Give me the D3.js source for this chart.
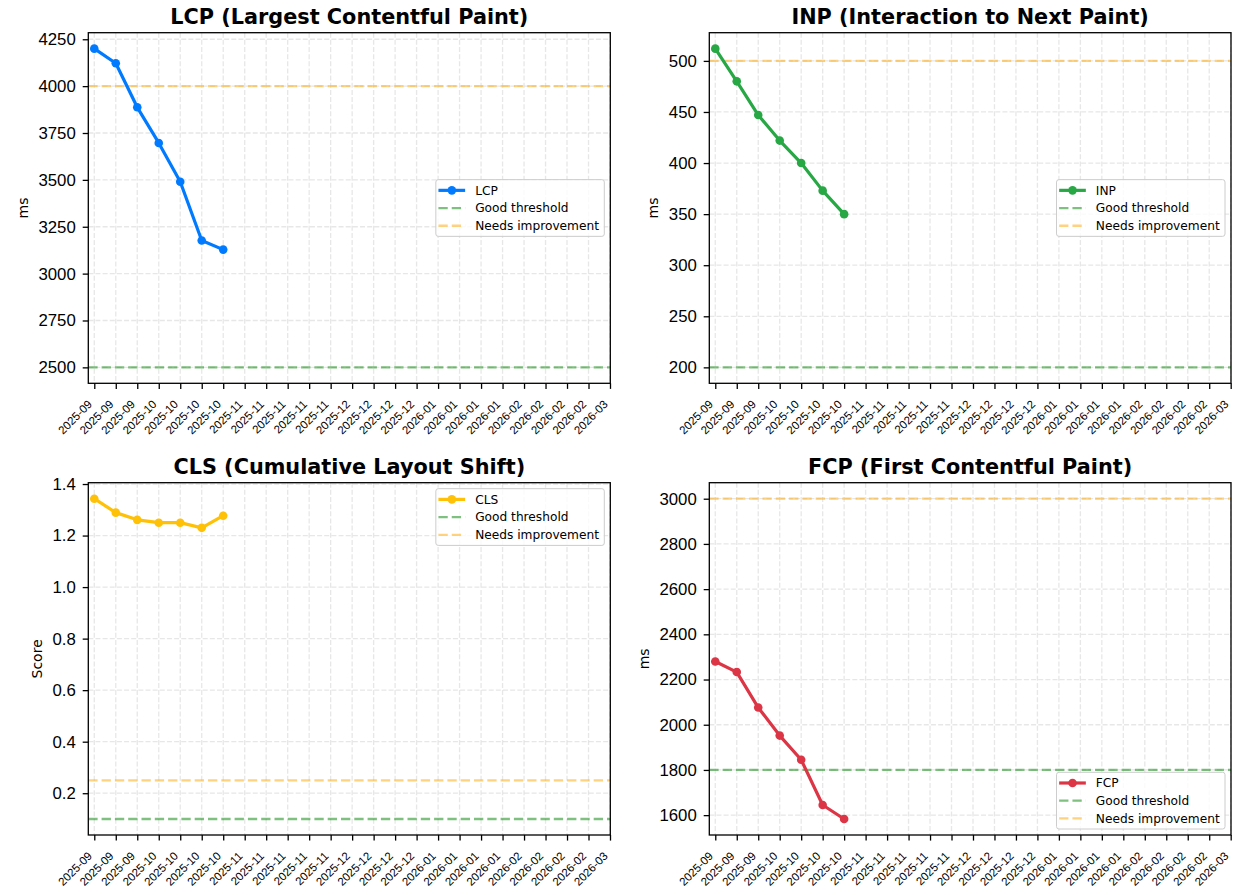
<!DOCTYPE html>
<html>
<head>
<meta charset="utf-8">
<script src="https://cdn.jsdelivr.net/npm/d3@7"></script>
<style>
  body { margin: 0; background: #fff; }
  svg { display: block; font-family: "DejaVu Sans", sans-serif; }
</style>
</head>
<body>
<div id="chart"></div>
<script>
// weekly data points
const weeks = ["2025-09-14", "2025-09-21", "2025-09-28", "2025-10-05", "2025-10-12", "2025-10-19", "2025-10-26"];
const lcpValues = [4200, 4122, 3887, 3697, 3490, 3177, 3128];
const inpValues = [512, 480, 447, 422, 400, 373, 350];
const clsValues = [1.343, 1.289, 1.261, 1.250, 1.250, 1.230, 1.277];
const fcpValues = [2280, 2233, 2076, 1952, 1845, 1645, 1583];

// x tick dates (weekly)
const xTicks = ["2025-09-14", "2025-09-21", "2025-09-28", "2025-10-05", "2025-10-12", "2025-10-19", "2025-10-26",
  "2025-11-02", "2025-11-09", "2025-11-16", "2025-11-23", "2025-11-30", "2025-12-07", "2025-12-14", "2025-12-21",
  "2025-12-28", "2026-01-04", "2026-01-11", "2026-01-18", "2026-01-25", "2026-02-01", "2026-02-08", "2026-02-15",
  "2026-02-22", "2026-03-01"];

// y tick values per chart
const lcpTicks = [2500, 2750, 3000, 3250, 3500, 3750, 4000, 4250];
const inpTicks = [200, 250, 300, 350, 400, 450, 500];
const clsTicks = [0.2, 0.4, 0.6, 0.8, 1.0, 1.2, 1.4];
const fcpTicks = [1600, 1800, 2000, 2200, 2400, 2600, 2800, 3000];

const width = 1233, height = 895;
const parse = d3.utcParse("%Y-%m-%d");
const fmtMonth = d3.utcFormat("%Y-%m");

const svg = d3.select("#chart").append("svg")
    .attr("width", width)
    .attr("height", height);

const panels = [
  {title: "LCP (Largest Contentful Paint)", name: "LCP", values: lcpValues, ticks: lcpTicks,
   good: 2500, needs: 4000, color: "#007bff", ylabel: "ms", fmt: d3.format("d"), legend: "center",
   box: {left: 88.3, right: 610.3, top: 32.7, bottom: 383.3}},
  {title: "INP (Interaction to Next Paint)", name: "INP", values: inpValues, ticks: inpTicks,
   good: 200, needs: 500, color: "#28a745", ylabel: "ms", fmt: d3.format("d"), legend: "center",
   box: {left: 709.3, right: 1231, top: 32.7, bottom: 383.3}},
  {title: "CLS (Cumulative Layout Shift)", name: "CLS", values: clsValues, ticks: clsTicks,
   good: 0.1, needs: 0.25, color: "#ffc107", ylabel: "Score", fmt: d3.format(".1f"), legend: "upper",
   box: {left: 88.3, right: 610.3, top: 482.7, bottom: 835}},
  {title: "FCP (First Contentful Paint)", name: "FCP", values: fcpValues, ticks: fcpTicks,
   good: 1800, needs: 3000, color: "#dc3545", ylabel: "ms", fmt: d3.format("d"), legend: "lower",
   box: {left: 709.3, right: 1231, top: 482.7, bottom: 835}}
];

const goodColor = "#008000", needsColor = "#ffa500";
const tickFont = 16.8, xTickFont = 11.5, titleFont = 20.8, legendFont = 12.2, labelFont = 14;
const tickLen = 5.6, yPad = 6.9, xOffset = 14.2;
const thrDash = "9.3,4", thrWidth = 2.3;

panels.forEach(p => {
  const b = p.box;
  const g = svg.append("g");

  const x = d3.scaleUtc()
    .domain([new Date(parse("2025-09-14").getTime() - 1.95 * 864e5), new Date(parse("2026-03-01").getTime() + 0.1 * 864e5)])
    .range([b.left, b.right]);

  // y domain like matplotlib autoscale: data + thresholds, 5% margin
  const ext = d3.extent([...p.values, p.good, p.needs]);
  const pad = (ext[1] - ext[0]) * 0.05;
  const y = d3.scaleLinear()
    .domain([ext[0] - pad, ext[1] + pad])
    .range([b.bottom, b.top]);

  // grid
  const grid = g.append("g")
    .attr("stroke", "#b0b0b0")
    .attr("stroke-opacity", 0.3)
    .attr("stroke-width", 1.3)
    .attr("stroke-dasharray", "5,2.15");
  grid.selectAll("line.gx")
    .data(xTicks)
    .enter().append("line")
    .attr("x1", d => x(parse(d))).attr("x2", d => x(parse(d)))
    .attr("y1", b.top).attr("y2", b.bottom);
  grid.selectAll("line.gy")
    .data(p.ticks)
    .enter().append("line")
    .attr("x1", b.left).attr("x2", b.right)
    .attr("y1", d => y(d)).attr("y2", d => y(d));

  // threshold lines
  [[p.good, goodColor], [p.needs, needsColor]].forEach(([v, c]) => {
    g.append("line")
      .attr("x1", b.left).attr("x2", b.right)
      .attr("y1", y(v)).attr("y2", y(v))
      .attr("stroke", c)
      .attr("stroke-opacity", 0.5)
      .attr("stroke-width", thrWidth)
      .attr("stroke-dasharray", thrDash);
  });

  // series line + markers
  const pts = weeks.map((w, i) => ({date: parse(w), value: p.values[i]}));
  g.append("path")
    .datum(pts)
    .attr("fill", "none")
    .attr("stroke", p.color)
    .attr("stroke-width", 3.2)
    .attr("stroke-linejoin", "round")
    .attr("d", d3.line().x(d => x(d.date)).y(d => y(d.value)));
  g.selectAll("circle")
    .data(pts)
    .enter().append("circle")
    .attr("cx", d => x(d.date))
    .attr("cy", d => y(d.value))
    .attr("r", 4.3)
    .attr("fill", p.color);

  // axes
  const xAxis = g.append("g")
    .attr("transform", `translate(0,${b.bottom})`)
    .call(d3.axisBottom(x).tickValues(xTicks.map(parse)).tickSize(tickLen).tickPadding(0).tickFormat(fmtMonth));
  xAxis.select(".domain").remove();
  xAxis.selectAll("line").attr("stroke", "#000").attr("stroke-width", 1.3);
  const a = 0.93 * xTickFont / Math.SQRT2, dsc = 0.24 * xTickFont / Math.SQRT2;
  xAxis.selectAll("text")
    .attr("font-size", xTickFont)
    .attr("fill", "#000")
    .attr("text-anchor", "end")
    .attr("dy", null)
    .attr("y", null)
    .attr("transform", `translate(${-dsc},${xOffset + a}) rotate(-45)`);

  const yAxis = g.append("g")
    .attr("transform", `translate(${b.left},0)`)
    .call(d3.axisLeft(y).tickValues(p.ticks).tickSize(tickLen).tickPadding(yPad).tickFormat(p.fmt));
  yAxis.select(".domain").remove();
  yAxis.selectAll("line").attr("stroke", "#000").attr("stroke-width", 1.3);
  yAxis.selectAll("text").attr("font-size", tickFont).attr("fill", "#000");

  // frame
  g.append("rect")
    .attr("x", b.left).attr("y", b.top)
    .attr("width", b.right - b.left).attr("height", b.bottom - b.top)
    .attr("fill", "none")
    .attr("stroke", "#000")
    .attr("stroke-width", 1.3);

  // title
  g.append("text")
    .attr("x", (b.left + b.right) / 2)
    .attr("y", b.top - 8.7)
    .attr("text-anchor", "middle")
    .attr("font-size", titleFont)
    .attr("font-weight", "bold")
    .text(p.title);

  // y label placed left of tick labels
  let minX = b.left;
  yAxis.selectAll("text").each(function() {
    const w = this.getComputedTextLength();
    minX = Math.min(minX, b.left - tickLen - yPad - w);
  });
  g.append("text")
    .attr("transform", `translate(${minX - 7.5 - 0.236 * labelFont},${(b.top + b.bottom) / 2}) rotate(-90)`)
    .attr("text-anchor", "middle")
    .attr("font-size", labelFont)
    .text(p.ylabel);

  // legend
  const items = [
    {label: p.name, color: p.color, opacity: 1, dash: null, marker: true, w: 3.2},
    {label: "Good threshold", color: goodColor, opacity: 0.5, dash: thrDash, marker: false, w: thrWidth},
    {label: "Needs improvement", color: needsColor, opacity: 0.5, dash: thrDash, marker: false, w: thrWidth}
  ];
  const lg = g.append("g");
  const frame = lg.append("rect");
  const texts = items.map(it => lg.append("text")
      .attr("font-size", legendFont)
      .attr("dy", "0.35em")
      .text(it.label));
  const maxW = d3.max(texts, t => t.node().getComputedTextLength());
  const lw = maxW + 44.6, lh = 56.7;
  const lx = b.right - 6 - lw;
  let ly;
  if (p.legend === "center") ly = (b.top + b.bottom) / 2 - lh / 2;
  else if (p.legend === "upper") ly = b.top + 6;
  else ly = b.bottom - 6 - lh;
  frame.attr("x", lx).attr("y", ly).attr("width", lw).attr("height", lh)
    .attr("rx", 2.4)
    .attr("fill", "#fff").attr("fill-opacity", 0.8)
    .attr("stroke", "#cccccc").attr("stroke-width", 1);
  items.forEach((it, i) => {
    const cy = ly + 10.7 + i * 17.7;
    lg.append("line")
      .attr("x1", lx + 2.6).attr("x2", lx + 29.3)
      .attr("y1", cy).attr("y2", cy)
      .attr("stroke", it.color)
      .attr("stroke-opacity", it.opacity)
      .attr("stroke-width", it.w)
      .attr("stroke-dasharray", it.dash);
    if (it.marker) {
      lg.append("circle")
        .attr("cx", lx + 16).attr("cy", cy).attr("r", 4.3)
        .attr("fill", it.color);
    }
    texts[i].attr("x", lx + 39.3).attr("y", cy);
  });
});
</script>
</body>
</html>
